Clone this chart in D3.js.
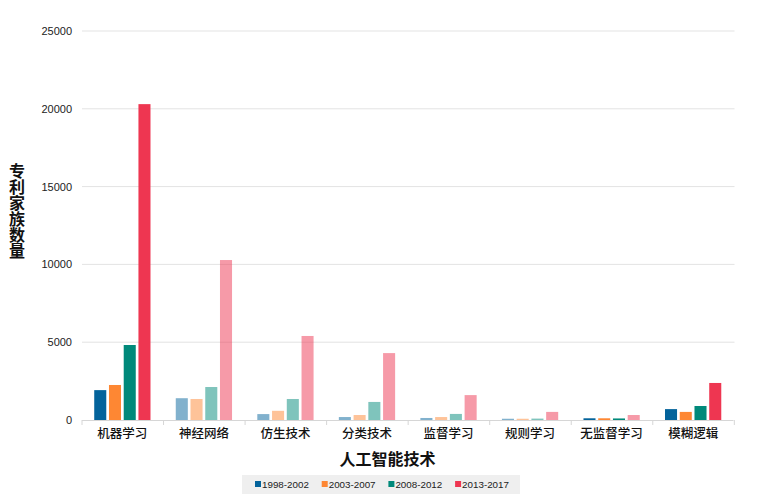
<!DOCTYPE html>
<html>
<head>
<meta charset="utf-8">
<script src="https://cdn.jsdelivr.net/npm/d3@7"></script>
<style>
  body { margin: 0; background: #fff; }
  text { font-family: "Liberation Sans", Arial, "Noto Sans CJK SC", sans-serif; }
  .cjk { font-family: "Noto Sans CJK SC", sans-serif; }
</style>
</head>
<body>
<div id="chart"></div>
<script>
// categories along the x axis
const categories = ['机器学习', '神经网络', '仿生技术', '分类技术', '监督学习', '规则学习', '无监督学习', '模糊逻辑'];
// one series per period
const periods = ['1998-2002', '2003-2007', '2008-2012', '2013-2017'];
const v1998 = [1920, 1400, 380, 190, 130, 80, 110, 700];
const v2003 = [2250, 1350, 590, 320, 190, 80, 110, 520];
const v2008 = [4820, 2120, 1350, 1160, 390, 90, 100, 900];
const v2013 = [20300, 10280, 5400, 4300, 1600, 520, 320, 2380];
const yTicks = [0, 5000, 10000, 15000, 20000, 25000];
// bars that are shown dimmed in the picture: [category index, series index]
const dimmed = [[1,0],[1,1],[1,2],[1,3],[2,0],[2,1],[2,2],[2,3],[3,0],[3,1],[3,2],[3,3],
                [4,0],[4,1],[4,2],[4,3],[5,0],[5,1],[5,2],[5,3],[6,3]];

const colors = ['#03639b', '#fe8733', '#00897a', '#ee3651'];
const series = [v1998, v2003, v2008, v2013];

const width = 762, height = 503;
const plotLeft = 82, plotRight = 733.5, plotTop = 31, plotBottom = 420;

let svg = d3.select('#chart').append('svg')
  .attr('width', width)
  .attr('height', height);

let x0 = d3.scaleBand()
  .domain(categories)
  .range([plotLeft, plotRight])
  .paddingInner(0.31)
  .paddingOuter(0.15);

let x1 = d3.scaleBand()
  .domain(d3.range(periods.length))
  .range([0, x0.bandwidth()])
  .paddingInner(0.183);

let y = d3.scaleLinear()
  .domain([0, 25000])
  .range([plotBottom, plotTop]);

// gridlines
svg.append('g')
  .selectAll('line')
  .data(yTicks.filter(d => d > 0))
  .enter().append('line')
    .attr('x1', plotLeft)
    .attr('x2', plotRight + 1)
    .attr('y1', d => y(d))
    .attr('y2', d => y(d))
    .style('stroke', '#e3e3e3')
    .style('stroke-width', 1);

// y axis labels
svg.append('g')
  .selectAll('text')
  .data(yTicks)
  .enter().append('text')
    .attr('x', 72)
    .attr('y', d => y(d) + 4)
    .attr('text-anchor', 'end')
    .style('font-size', '11px')
    .style('fill', '#222')
    .text(d => d);

// bars
let dimSet = new Set(dimmed.map(d => d[0] + '-' + d[1]));
let bars = [];
categories.forEach(function(c, i) {
  series.forEach(function(s, j) {
    bars.push({cat: c, ci: i, si: j, value: s[i]});
  });
});

svg.append('g')
  .selectAll('rect')
  .data(bars)
  .enter().append('rect')
    .attr('x', d => x0(d.cat) + x1(d.si))
    .attr('y', d => y(d.value))
    .attr('width', x1.bandwidth())
    .attr('height', d => plotBottom - y(d.value))
    .style('fill', d => colors[d.si])
    .style('opacity', d => dimSet.has(d.ci + '-' + d.si) ? 0.5 : 1);

// bottom axis
let xAxis = svg.append('g');
xAxis.append('line')
  .attr('x1', plotLeft).attr('x2', plotRight)
  .attr('y1', plotBottom + 0.5).attr('y2', plotBottom + 0.5)
  .style('stroke', '#d6d6d6');
xAxis.selectAll('.tick')
  .data(d3.range(categories.length + 1))
  .enter().append('line')
    .attr('x1', i => plotLeft + i * x0.step())
    .attr('x2', i => plotLeft + i * x0.step())
    .attr('y1', plotBottom)
    .attr('y2', plotBottom + 5)
    .style('stroke', '#d6d6d6');
xAxis.selectAll('text')
  .data(categories)
  .enter().append('text')
    .attr('class', 'cjk')
    .attr('x', d => x0(d) + x0.bandwidth() / 2)
    .attr('y', 438)
    .attr('text-anchor', 'middle')
    .style('font-size', '12.5px')
    .style('font-weight', 500)
    .style('fill', '#111')
    .text(d => d);

// axis titles
svg.append('text')
  .attr('class', 'cjk')
  .attr('x', 387.5)
  .attr('y', 465)
  .attr('text-anchor', 'middle')
  .style('font-size', '16px')
  .style('font-weight', 'bold')
  .style('fill', '#111')
  .text('人工智能技术');

svg.append('text')
  .attr('class', 'cjk')
  .attr('x', 17)
  .attr('y', 211)
  .attr('text-anchor', 'middle')
  .style('writing-mode', 'vertical-rl')
  .style('font-size', '16px')
  .style('font-weight', 'bold')
  .style('fill', '#111')
  .text('专利家族数量');

// legend
let legend = svg.append('g');
legend.append('rect')
  .attr('x', 242).attr('y', 475)
  .attr('width', 278).attr('height', 19)
  .style('fill', '#efefef');
let items = legend.selectAll('g')
  .data(periods)
  .enter().append('g')
    .attr('transform', (d, i) => 'translate(' + (255 + i * 66.7) + ',484)');
items.append('rect')
  .attr('x', 0).attr('y', -3)
  .attr('width', 6).attr('height', 6)
  .style('fill', (d, i) => colors[i]);
items.append('text')
  .attr('x', 7).attr('y', 3.5)
  .style('font-size', '9.8px')
  .style('fill', '#222')
  .text(d => d);
</script>
</body>
</html>
